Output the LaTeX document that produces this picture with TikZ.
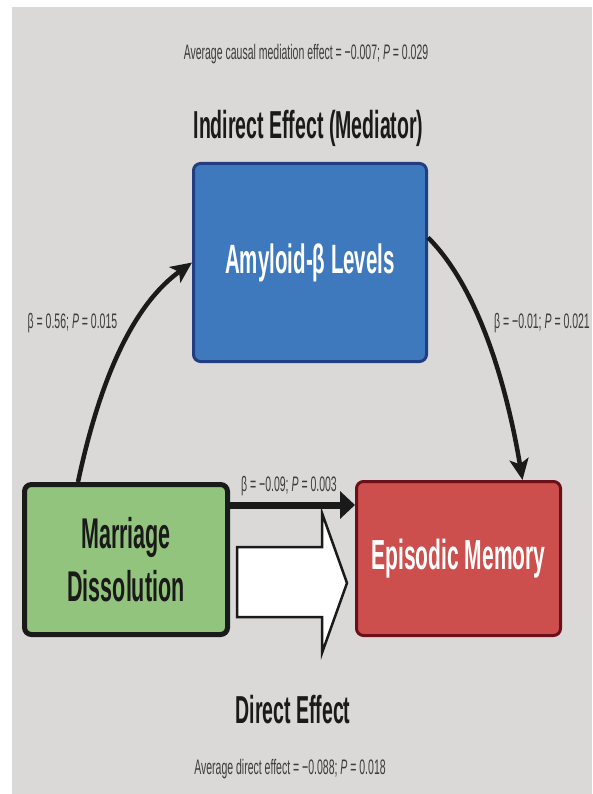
\documentclass[tikz,border=0pt]{standalone}
\usepackage{fontspec}
\setmainfont{Liberation Sans}
\newfontfamily\cond[FakeStretch=0.5]{Liberation Sans}
\usetikzlibrary{arrows.meta}
\definecolor{bg}{HTML}{DAD9D8}
\definecolor{bluefill}{HTML}{3E78BD}
\definecolor{blueline}{HTML}{223E80}
\definecolor{greenfill}{HTML}{93C47D}
\definecolor{redfill}{HTML}{CC4E4D}
\definecolor{redline}{HTML}{6B0F18}
\definecolor{ink}{HTML}{1A1A1A}
\begin{document}
\begin{tikzpicture}[x=1pt,y=-1pt,
  box/.style={rectangle, rounded corners=7pt, inner sep=0pt, align=center},
  small/.style={font=\cond\fontsize{21}{25}\selectfont, text=ink!85, inner sep=0pt, anchor=base},
  heading/.style={font=\cond\bfseries\fontsize{39}{45}\selectfont, text=ink, inner sep=0pt, anchor=base},
  conn/.style={draw=ink, line width=4.5pt, -{Stealth[length=21pt,width=19pt,inset=5pt]}},
  thick conn/.style={draw=ink, line width=7pt, -{Triangle[length=15pt,width=27pt]}},
  blockarrow/.style={fill=white, draw=ink, line width=2.5pt, line join=miter}
]
\useasboundingbox (0,0) rectangle (592,794);
\fill[bg] (12,7) rectangle (592,794);

% boxes
\node[box, fill=bluefill, draw=blueline, line width=3pt,
      minimum width=233pt, minimum height=198pt,
      text=white, font=\cond\bfseries\fontsize{41}{48}\selectfont]
      (amy) at (310,262.5) {Amyloid-β Levels};
\node[box, fill=greenfill, draw=ink, line width=5pt,
      minimum width=203pt, minimum height=150pt,
      text=ink, font=\cond\bfseries\fontsize{43}{53}\selectfont]
      (mar) at (126,559.5) {Marriage\\Dissolution};
\node[box, fill=redfill, draw=redline, line width=3pt,
      minimum width=204pt, minimum height=154pt,
      text=white, font=\cond\bfseries\fontsize{42}{50}\selectfont]
      (epi) at (458.5,558.5) {Episodic Memory};

% titles and labels
\node[small] (ame) at (306,60) {Average causal mediation effect = −0.007; \textit{P} = 0.029};
\node[heading] (ind) at (308.5,139) {Indirect Effect (Mediator)};
\node[heading] (dir) at (293,723) {Direct Effect};
\node[small] (ade) at (290,774) {Average direct effect = −0.088; \textit{P} = 0.018};

% connectors
\coordinate (a1) at ([xshift=-48pt]mar.north);
\draw[conn] (a1) .. controls +(23,-108) and +(-57,41) .. (amy.west);
\coordinate (a2) at ([yshift=25pt]amy.east);
\coordinate (a2e) at ([xshift=64pt]epi.north);
\draw[conn] (a2) .. controls +(52,52) and +(-15,-90) .. (a2e);
\coordinate (a3) at ([yshift=54.5pt]mar.east);
\draw[thick conn] (a3) -- (a3 -| epi.west);

\node[small] (l1) at (72.5,328) {β = 0.56; \textit{P} = 0.015};
\node[small] (l2) at (542,328) {β = −0.01; \textit{P} = 0.021};
\node[small] (l3) at (289,491) {β = −0.09; \textit{P} = 0.003};

% big white block arrow (direct effect)
\draw[blockarrow] (237,547) -- (322,547) -- (322,513) -- (347,583)
  -- (322,653) -- (322,617) -- (237,617) -- cycle;
\end{tikzpicture}
\end{document}
